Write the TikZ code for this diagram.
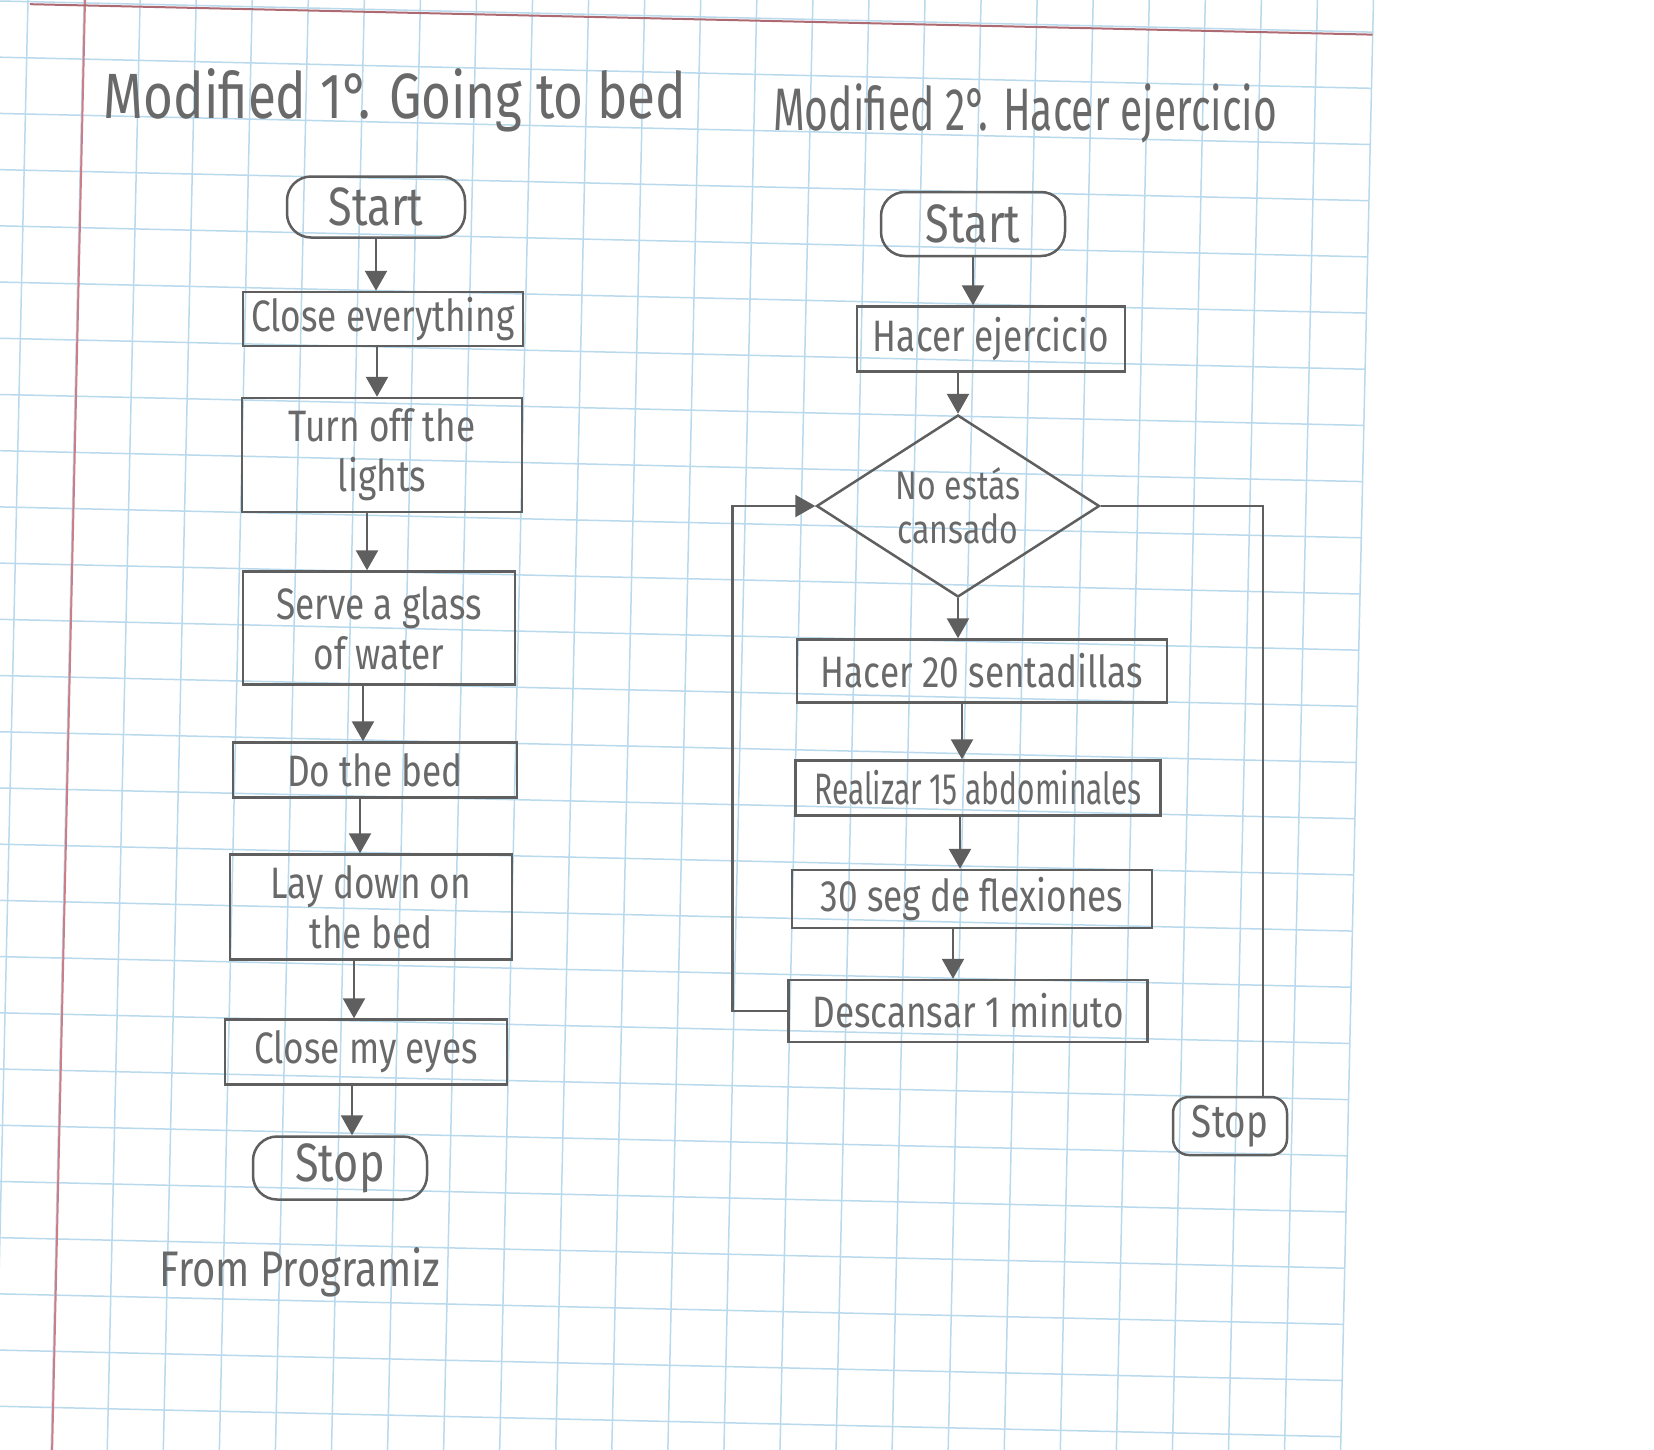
\documentclass[tikz,border=0pt]{standalone}
\usepackage{fontspec}
\setmainfont{Fira Sans}
\newfontfamily\hand[FakeStretch=0.8]{Fira Sans}
\newfontfamily\handc[FakeStretch=0.68]{Fira Sans}
\usetikzlibrary{arrows.meta,shapes.geometric,calc}
\definecolor{gridblue}{RGB}{185,218,236}
\definecolor{margin}{RGB}{205,125,135}
\definecolor{pencil}{RGB}{95,95,95}
\definecolor{ink}{RGB}{105,105,105}
\tikzset{
  pline/.style={draw=pencil, line width=2.5pt},
  box/.style={pline, rectangle, inner sep=3pt, align=center, text=ink,
    font=\hand\fontsize{44}{50}\selectfont},
  term/.style={box, rounded corners=24pt},
  decis/.style={pline, diamond, inner sep=0pt, aspect=1.55, align=center, text=ink,
    font=\hand\fontsize{40}{44}\selectfont},
  arr/.style={pline, -{Triangle[width=22pt,length=20pt]}},
  plain/.style={pline},
  ttl/.style={text=ink, inner sep=0pt, font=\hand\fontsize{64}{70}\selectfont},
  gridline/.style={draw=gridblue, line width=1.5pt},
}
\begin{document}
\begin{tikzpicture}[x=1pt,y=-1pt]
\useasboundingbox (0,0) rectangle (1654,1449);
\fill[white] (0,0) rectangle (1654,1449);
\clip (0,0) rectangle (1654,1449);
% graph paper
\begin{scope}[rotate=-1.3]
  \foreach \i in {0,...,24} \draw[gridline] ({28+56.05*\i},-80) -- ({28+56.05*\i},1540);
  \foreach \j in {0,...,27} \draw[gridline] (-80,{1+56.2*\j}) -- (1373,{1+56.2*\j});
  \draw[margin, line width=2pt] (85,-80) -- (85,1540);
  \draw[margin!85!black, line width=2pt] (30,3.5) -- (1373,3.5);
\end{scope}

% titles
\node[ttl] (t1) at (395,100) {Modified 1°. Going to bed};
\node[ttl, font=\handc\fontsize{60}{66}\selectfont] (t2) at (1025,113) {Modified 2°. Hacer ejercicio};
\node[ttl, font=\hand\fontsize{50}{56}\selectfont] (src) at (300,1272) {From Programiz};

% left flowchart
\node[term, minimum width=178pt, minimum height=61pt, font=\hand\fontsize{54}{58}\selectfont] (s1) at (376,207) {Start};
\node[box, minimum width=280pt, minimum height=54pt] (b1) at (383,319) {Close everything};
\node[box, minimum width=280pt, minimum height=114pt] (b2) at (382,455) {Turn off the\\lights};
\node[box, minimum width=272pt, minimum height=113pt] (b3) at (379,628) {Serve a glass\\of water};
\node[box, minimum width=284pt, minimum height=55pt] (b4) at (375,770) {Do the bed};
\node[box, minimum width=282pt, minimum height=105pt] (b5) at (371,907) {Lay down on\\the bed};
\node[box, minimum width=282pt, minimum height=65pt] (b6) at (366,1052) {Close my eyes};
\node[term, minimum width=174pt, minimum height=63pt, font=\hand\fontsize{54}{58}\selectfont] (e1) at (340,1168) {Stop};

\draw[arr] (s1.south) -- (s1.south |- b1.north);
\draw[arr] ([xshift=-6pt]b1.south) -- ([xshift=-6pt]b1.south |- b2.north);
\draw[arr] ([xshift=-15pt]b2.south) -- ([xshift=-15pt]b2.south |- b3.north);
\draw[arr] ([xshift=-16pt]b3.south) -- ([xshift=-16pt]b3.south |- b4.north);
\draw[arr] ([xshift=-15pt]b4.south) -- ([xshift=-15pt]b4.south |- b5.north);
\draw[arr] ([xshift=-17pt]b5.south) -- ([xshift=-17pt]b5.south |- b6.north);
\draw[arr] ([xshift=-14pt]b6.south) -- ([xshift=-14pt]b6.south |- e1.north);

% right flowchart
\node[term, minimum width=184pt, minimum height=64pt, font=\hand\fontsize{54}{58}\selectfont] (s2) at (973,224) {Start};
\node[box, minimum width=268pt, minimum height=65pt] (r1) at (991,339) {Hacer ejercicio};
\node[decis, minimum width=283pt, minimum height=182pt] (d) at (958,506) {No estás\\cansado};
\node[box, minimum width=370pt, minimum height=63pt] (r2) at (982,671) {Hacer 20 sentadillas};
\node[box, minimum width=365pt, minimum height=55pt, font=\handc\fontsize{44}{50}\selectfont] (r3) at (978,788) {Realizar 15 abdominales};
\node[box, minimum width=360pt, minimum height=58pt] (r4) at (972,899) {30 seg de flexiones};
\node[box, minimum width=359pt, minimum height=62pt] (r5) at (968,1011) {Descansar 1 minuto};
\node[term, rounded corners=16pt, minimum width=114pt, minimum height=58pt, font=\hand\fontsize{46}{50}\selectfont] (e2) at (1230,1126) {Stop};

\draw[arr] (s2.south) -- (s2.south |- r1.north);
\draw[arr] (d.north |- r1.south) -- (d.north);
\draw[arr] (d.south) -- (d.south |- r2.north);
\draw[arr] ([xshift=-20pt]r2.south) -- ([xshift=-20pt]r2.south |- r3.north);
\draw[arr] ([xshift=-18pt]r3.south) -- ([xshift=-18pt]r3.south |- r4.north);
\draw[arr] ([xshift=-19pt]r4.south) -- ([xshift=-19pt]r4.south |- r5.north);
\draw[arr] (r5.west) -- ++(-55,0) coordinate (lc) |- (d.west);
\draw[plain] (d.east) -- ++(162,0) coordinate (rc) -- (rc |- e2.north);
\end{tikzpicture}
\end{document}
